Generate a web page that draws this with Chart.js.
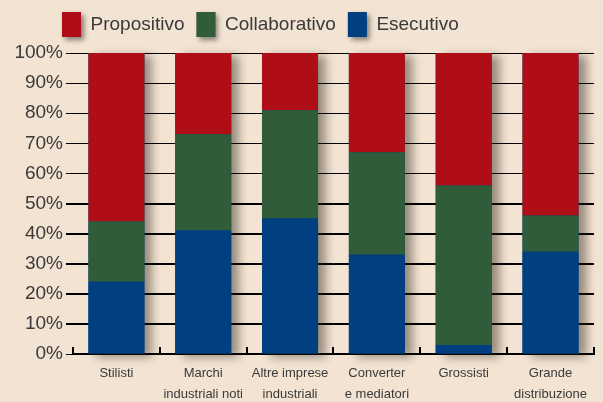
<!DOCTYPE html>
<html>
<head>
<meta charset="utf-8">
<script src="https://cdn.jsdelivr.net/npm/chart.js@4"></script>
<style>
  html, body { margin:0; padding:0; background:#f2e3d2; }
  #wrap { width:603px; height:402px; }
</style>
</head>
<body>
<div id="wrap"><canvas id="c" width="603" height="402"></canvas></div>
<script>
// Data (percent of each category)
const categories = [
  ['Stilisti'],
  ['Marchi', 'industriali noti'],
  ['Altre imprese', 'industriali'],
  ['Converter', 'e mediatori'],
  ['Grossisti'],
  ['Grande', 'distribuzione']
];
const esecutivo     = [24, 41, 45, 33, 3, 34];
const collaborativo = [20, 32, 36, 34, 53, 12];
const propositivo   = [56, 27, 19, 33, 44, 54];
const seriesNames = ['Esecutivo', 'Collaborativo', 'Propositivo'];

const BG = '#f2e3d2';
const TXT = '#3a3a3a';
const SANS = "'Liberation Sans', Arial, sans-serif";

// background, legend tweak, grid lines and shadows behind bars / legend boxes
const shadowPlugin = {
  id: 'shadows',
  afterInit(chart) {
    const lg = chart.legend;
    const fit = lg.fit;
    lg.fit = function () { fit.call(this); this.height += 6; };
  },
  afterLayout(chart) {
    // legend starts a bit left of centre in the original
    chart.legend.left = 50;
  },
  beforeDraw(chart) {
    const ctx = chart.ctx;
    ctx.save();
    ctx.fillStyle = BG;
    ctx.fillRect(0, 0, chart.width, chart.height);
    const lg = chart.legend;
    if (lg && lg.legendHitBoxes) {
      ctx.shadowColor = 'rgba(0,0,0,0.45)';
      ctx.shadowBlur = 5;
      ctx.shadowOffsetX = 3;
      ctx.shadowOffsetY = 3;
      ctx.fillStyle = '#888';
      const bh = lg.options.labels.boxHeight, bw = lg.options.labels.boxWidth;
      lg.legendHitBoxes.forEach(hb => {
        ctx.fillRect(hb.left, hb.top + (hb.height - bh) / 2, bw, bh);
      });
    }
    ctx.restore();
  },
  beforeDatasetsDraw(chart) {
    const ctx = chart.ctx;
    const area = chart.chartArea;
    const ys = chart.scales.y;
    ctx.save();
    // horizontal rules through the plot
    ctx.strokeStyle = '#000';
    ctx.lineWidth = 1;
    ys.ticks.forEach(t => {
      const y = Math.round(ys.getPixelForValue(t.value)) + 0.5;
      if (t.value === 0) return;
      ctx.beginPath();
      ctx.moveTo(area.left - 7, y);
      ctx.lineTo(area.right, y);
      ctx.stroke();
    });
    // soft shadow of every stacked column
    const bottom = chart.getDatasetMeta(0).data;
    const top = chart.getDatasetMeta(chart.data.datasets.length - 1).data;
    ctx.shadowColor = 'rgba(40,30,20,0.45)';
    ctx.shadowBlur = 9;
    ctx.shadowOffsetX = 8;
    ctx.shadowOffsetY = 3;
    ctx.fillStyle = '#003f80';
    bottom.forEach((b, i) => {
      const t = top[i];
      ctx.fillRect(b.x - b.width / 2, t.y, b.width, b.base - t.y);
    });
    ctx.restore();
  }
};

new Chart(document.getElementById('c'), {
  type: 'bar',
  data: {
    labels: categories,
    datasets: [
      { label: seriesNames[0], data: esecutivo,     backgroundColor: '#003f80' },
      { label: seriesNames[1], data: collaborativo, backgroundColor: '#315c39' },
      { label: seriesNames[2], data: propositivo,   backgroundColor: '#b00e16' }
    ]
  },
  options: {
    responsive: false,
    animation: false,
    layout: { padding: 0 },
    datasets: { bar: { categoryPercentage: 1, barPercentage: 0.645, borderWidth: 0 } },
    plugins: {
      tooltip: { enabled: false },
      legend: {
        position: 'top',
        align: 'start',
        reverse: true,
        labels: {
          boxWidth: 19, boxHeight: 25, padding: 12,
          color: TXT, font: { family: SANS, size: 19 }
        }
      }
    },
    scales: {
      x: {
        stacked: true,
        afterFit(s) { s.height = 48; },
        border: { display: true, color: '#000', width: 2 },
        grid: { display: true, drawOnChartArea: false, drawTicks: true, tickLength: -7, color: '#000', lineWidth: 2 },
        ticks: { color: TXT, padding: 16, maxRotation: 0, autoSkip: false, font: { family: SANS, size: 13, lineHeight: 1.6 } }
      },
      y: {
        stacked: true,
        min: 0, max: 100,
        afterFit(s) { s.width = 73; },
        border: { display: false },
        grid: { color: '#000', lineWidth: 1, tickLength: 7 },
        ticks: { stepSize: 10, padding: 3, color: TXT, font: { family: SANS, size: 19 }, callback: v => v + '%' }
      }
    }
  },
  plugins: [shadowPlugin]
});
</script>
</body>
</html>
